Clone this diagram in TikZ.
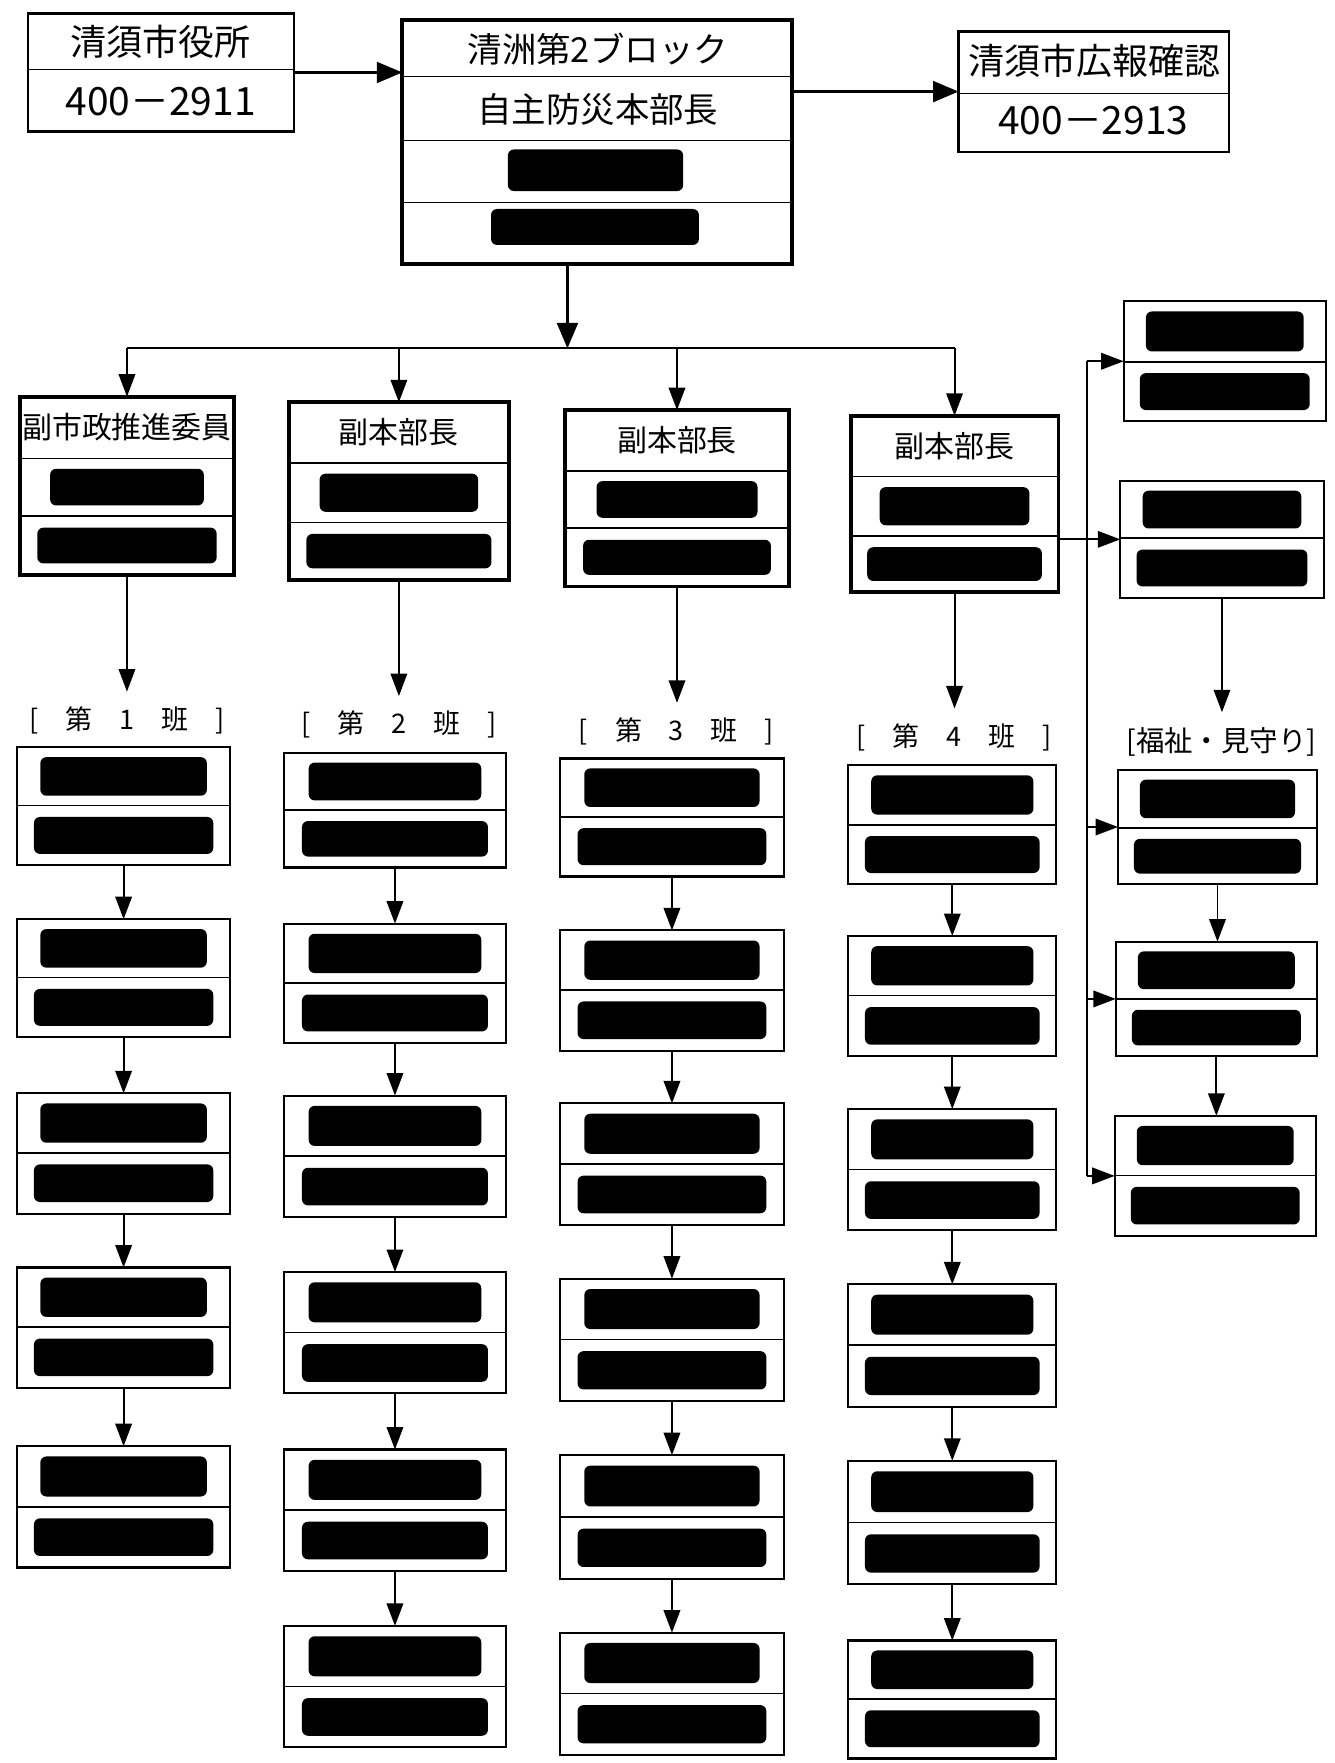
\documentclass[tikz,border=0pt]{standalone}
\usepackage{fontspec}
\setmainfont{Noto Sans CJK JP}
\usetikzlibrary{arrows.meta}
\tikzset{
  thinbox/.style={draw, line width=1.4pt, inner sep=0pt, outer sep=0pt},
  thickbox/.style={draw, line width=2.6pt, inner sep=0pt, outer sep=0pt},
  divider/.style={line width=1pt},
  redact/.style={fill=black, rounded corners=4pt},
  arr/.style={line width=1.3pt, -{Triangle[length=15pt,width=11pt]}},
  bigarr/.style={line width=1.5pt, -{Triangle[length=17pt,width=14pt]}},
  conn/.style={line width=1.3pt},
  bigtxt/.style={font=\fontsize{24}{26}\selectfont, inner sep=0pt},
  numtxt/.style={font=\fontsize{26}{28}\selectfont, inner sep=0pt},
  vicetxt/.style={font=\fontsize{20}{22}\selectfont, inner sep=0pt},
  lbl/.style={font=\fontsize{18}{20}\selectfont, inner xsep=1pt, inner ysep=1pt, outer ysep=9pt},
}
% two-row redacted box: [style] name x1 y1 x2 y2 ydiv
\newcommand\rowbox[7][thinbox]{%
  \node[#1, minimum width={(#5-#3)*0.75pt}, minimum height={(#6-#4)*0.75pt}] (#2) at ({(#3+#5)/2},{(#4+#6)/2}) {};
  \draw[divider] (#3,#7) -- (#5,#7);
  \fill[redact] ({#3+0.11*(#5-#3)},{#4+0.17*(#7-#4)}) rectangle ({#5-0.11*(#5-#3)},{#7-0.17*(#7-#4)});
  \fill[redact] ({#3+0.08*(#5-#3)},{#7+0.19*(#6-#7)}) rectangle ({#5-0.08*(#5-#3)},{#6-0.19*(#6-#7)});
}
% three-row vice box: name x1 y1 x2 y2 div1 div2 text
\newcommand\vicebox[8]{%
  \node[thickbox, minimum width={(#4-#2)*0.75pt}, minimum height={(#5-#3)*0.75pt}] (#1) at ({(#2+#4)/2},{(#3+#5)/2}) {};
  \draw[divider] (#2,#6) -- (#4,#6);
  \draw[divider] (#2,#7) -- (#4,#7);
  \node[vicetxt] (#1t) at ({(#2+#4)/2},{(#3+#6)/2}) {#8};
  \fill[redact] ({#2+0.14*(#4-#2)},{#6+0.18*(#7-#6)}) rectangle ({#4-0.14*(#4-#2)},{#7-0.18*(#7-#6)});
  \fill[redact] ({#2+0.08*(#4-#2)},{#7+0.2*(#5-#7)}) rectangle ({#4-0.08*(#4-#2)},{#5-0.2*(#5-#7)});
}
\begin{document}
\begin{tikzpicture}[x=0.75pt, y=-0.75pt]
\fill[white] (0,0) rectangle (1188,1569);
\useasboundingbox (0,0) rectangle (1188,1569);

% ---- top row ----
\node[thinbox, minimum width={237*0.75pt}, minimum height={105*0.75pt}] (city) at (143.5,64.5) {};
\draw[divider] (25,62) -- (262,62);
\node[bigtxt] (cityt) at (143,37) {清須市役所};
\node[numtxt] (cityn) at (143,90) {400－2911};

\node[thickbox, minimum width={347*0.75pt}, minimum height={217*0.75pt}] (hq) at (531.5,126.5) {};
\draw[divider] (358,68) -- (705,68);
\draw[divider] (358,125) -- (705,125);
\draw[divider] (358,180) -- (705,180);
\node[bigtxt, font=\fontsize{23}{25}\selectfont] (hqt1) at (532,44) {清洲第2ブロック};
\node[bigtxt, font=\fontsize{23}{25}\selectfont] (hqt2) at (532,97) {自主防災本部長};
\fill[redact] (452,133) rectangle (608,170);
\fill[redact] (437,186) rectangle (622,218);

\node[thinbox, minimum width={241*0.75pt}, minimum height={107*0.75pt}] (pr) at (973.5,81.5) {};
\draw[divider] (853,83) -- (1094,83);
\node[bigtxt] (prt) at (974,54) {清須市広報確認};
\node[numtxt] (prn) at (973,107) {400－2913};

\draw[bigarr] (city.east) -- (city.east -| hq.west);
\draw[bigarr] (pr.west -| hq.east) -- (pr.west);

% ---- vice row ----
\vicebox{A}{18}{353}{208}{512}{408}{459}{副市政推進委員}
\vicebox{B}{257}{358}{453}{516}{412}{465}{副本部長}
\vicebox{C}{503}{365}{702}{522}{419}{470}{副本部長}
\vicebox{D}{757}{370}{942}{527}{424}{477}{副本部長}

\coordinate (hqout) at (505,235);
\coordinate (bus) at (505,310);
\draw[bigarr] (hqout) -- (bus);
\draw[conn] (A.north |- bus) -- (D.north |- bus);
\draw[arr] (A.north |- bus) -- (A.north);
\draw[arr] (B.north |- bus) -- (B.north);
\draw[arr] (C.north |- bus) -- (C.north);
\draw[arr] (D.north |- bus) -- (D.north);

% ---- team labels ----
\node[lbl] (L1) at (113,641) {[\hspace{1em}第\hspace{1em}1\hspace{1em}班\hspace{1em}]};
\node[lbl] (L2) at (355,645) {[\hspace{1em}第\hspace{1em}2\hspace{1em}班\hspace{1em}]};
\node[lbl] (L3) at (602,651) {[\hspace{1em}第\hspace{1em}3\hspace{1em}班\hspace{1em}]};
\node[lbl] (L4) at (849,656) {[\hspace{1em}第\hspace{1em}4\hspace{1em}班\hspace{1em}]};
\draw[arr] (A.south) -- (A.south |- L1.north);
\draw[arr] (B.south) -- (B.south |- L2.north);
\draw[arr] (C.south) -- (C.south |- L3.north);
\draw[arr] (D.south) -- (D.south |- L4.north);

% ---- column 1 ----
\rowbox{c11}{15}{665}{205}{770}{717}
\rowbox{c12}{15}{818}{205}{923}{870}
\rowbox{c13}{15}{973}{205}{1080}{1026}
\rowbox{c14}{15}{1128}{205}{1235}{1181}
\rowbox{c15}{15}{1287}{205}{1395}{1341}
% ---- column 2 ----
\rowbox{c21}{253}{670}{450}{772}{721}
\rowbox{c22}{253}{822}{450}{928}{875}
\rowbox{c23}{253}{975}{450}{1083}{1029}
\rowbox{c24}{253}{1132}{450}{1240}{1186}
\rowbox{c25}{253}{1290}{450}{1398}{1344}
\rowbox{c26}{253}{1447}{450}{1555}{1501}
% ---- column 3 ----
\rowbox{c31}{498}{675}{698}{780}{727}
\rowbox{c32}{498}{828}{698}{935}{881}
\rowbox{c33}{498}{982}{698}{1090}{1036}
\rowbox{c34}{498}{1138}{698}{1247}{1192}
\rowbox{c35}{498}{1295}{698}{1405}{1350}
\rowbox{c36}{498}{1453}{698}{1562}{1507}
% ---- column 4 ----
\rowbox{c41}{755}{681}{940}{787}{734}
\rowbox{c42}{755}{833}{940}{940}{886}
\rowbox{c43}{755}{987}{940}{1095}{1041}
\rowbox{c44}{755}{1143}{940}{1252}{1197}
\rowbox{c45}{755}{1300}{940}{1410}{1355}
\rowbox{c46}{755}{1460}{940}{1565}{1512}

\foreach \a/\b in {c11/c12,c12/c13,c13/c14,c14/c15,
                   c21/c22,c22/c23,c23/c24,c24/c25,c25/c26,
                   c31/c32,c32/c33,c33/c34,c34/c35,c35/c36,
                   c41/c42,c42/c43,c43/c44,c44/c45,c45/c46}
  \draw[arr] (\a.south) -- (\a.south |- \b.north);

% ---- right column ----
\rowbox{R1}{1000}{268}{1180}{375}{322}
\rowbox{R2}{997}{428}{1178}{532}{479}
\node[lbl, font=\fontsize{19}{21}\selectfont] (LF) at (1087,660) {[福祉・見守り]};
\rowbox{R3}{995}{685}{1172}{787}{737}
\rowbox{R4}{993}{838}{1172}{940}{889}
\rowbox{R5}{992}{993}{1171}{1100}{1046}

\coordinate (vx) at (967,0);
\draw[conn] (R1.west -| vx) -- (R5.west -| vx);
\draw[arr] (R1.west -| vx) -- (R1.west);
\draw[arr] (D.east |- R2.west) -- (R2.west);
\draw[arr] (R3.west -| vx) -- (R3.west);
\draw[arr] (R4.west -| vx) -- (R4.west);
\draw[arr] (R5.west -| vx) -- (R5.west);
\draw[arr] (R2.south) -- (R2.south |- LF.north);
\draw[arr] (R3.south) -- (R3.south |- R4.north);
\draw[arr] (R4.south) -- (R4.south |- R5.north);
\end{tikzpicture}
\end{document}
